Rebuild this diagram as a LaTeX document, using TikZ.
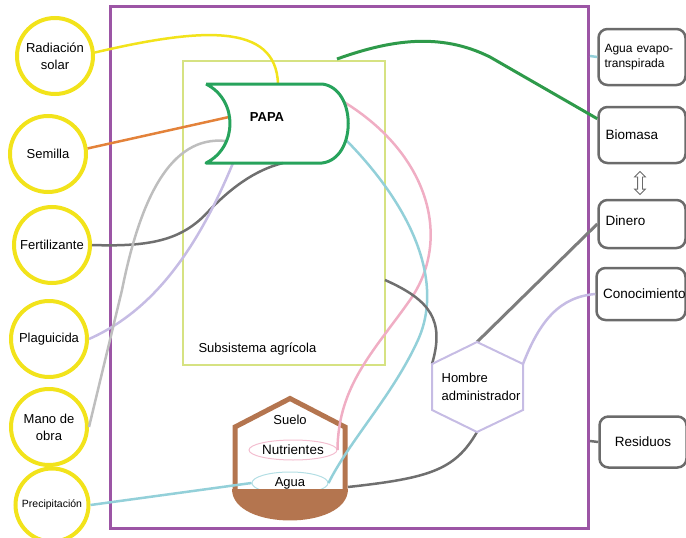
\documentclass[tikz,border=0pt]{standalone}
\usepackage{fontspec}
\setmainfont{Liberation Sans}
\usetikzlibrary{shapes.geometric,shapes.arrows}

\definecolor{Marco}{HTML}{9C55A5}
\definecolor{Sol}{HTML}{F2E31B}
\definecolor{Subsis}{HTML}{D6E282}
\definecolor{Papa}{HTML}{27A35C}
\definecolor{Bio}{HTML}{2E9A4A}
\definecolor{Naranja}{HTML}{E3823A}
\definecolor{GrisClaro}{HTML}{BEBEBE}
\definecolor{Lila}{HTML}{C6BCE4}
\definecolor{GrisOsc}{HTML}{6F6F6F}
\definecolor{Rosa}{HTML}{F0AEC4}
\definecolor{Celeste}{HTML}{93D0D9}
\definecolor{Tierra}{HTML}{B4754F}
\definecolor{Caja}{HTML}{6B6B6B}

\begin{document}
\begin{tikzpicture}[x=1pt, y=-1pt,
  entrada/.style={circle, draw=Sol, line width=4, minimum size=76, inner sep=0, align=center, font=\fontsize{13}{17}\selectfont},
  salida/.style={rectangle, rounded corners=9, draw=Caja, line width=2.5, inner xsep=7, text width=73, align=left, font=\fontsize{13.5}{16}\selectfont},
  texto/.style={font=\fontsize{13}{18}\selectfont},
  flujo/.style={line width=2.5}]

\useasboundingbox (0,0) rectangle (686,538) ;

%%%%%%%%%% Marco y subsistema %%%%%%%%%%

 \draw [Marco, line width=3] (110,6) rectangle (588,528) ;
 \draw [Subsis, line width=1.2] (183,61) rectangle (385,365) ;
 \node [texto, anchor=west] (subtxt) at (195,349) {Subsistema agrícola} ;

 \coordinate (sub-top) at (337,59) ;
 \coordinate (sub-right) at (385,280) ;
 \coordinate (eva-stub) at (590,56) ;
 \coordinate (res-stub) at (590,441) ;

%%%%%%%%%% Puntos de la PAPA %%%%%%%%%%

 \coordinate (p1) at (206,84) ;
 \coordinate (p2) at (322,84) ;
 \coordinate (p3) at (322,163) ;
 \coordinate (p4) at (206,163) ;
 \coordinate (papa-top) at (278,84) ;
 \coordinate (papa-left) at (229,117) ;
 \coordinate (papa-low) at (226,141) ;
 \coordinate (papa-bot1) at (233,163) ;
 \coordinate (papa-bot2) at (283,163) ;
 \coordinate (papa-ru) at (344,102) ;
 \coordinate (papa-rl) at (346,140) ;

%%%%%%%%%% Puntos del hombre %%%%%%%%%%

 \coordinate (hex-top) at (477,342) ;
 \coordinate (hex-ur) at (523,364) ;
 \coordinate (hex-lr) at (523,410) ;
 \coordinate (hex-bot) at (477,432) ;
 \coordinate (hex-ll) at (432,410) ;
 \coordinate (hex-ul) at (432,364) ;

%%%%%%%%%% Suelo %%%%%%%%%%

 \node [ellipse, draw=Celeste!70, line width=1, minimum width=76, minimum height=22, inner sep=0, texto] (agua) at (290,483) {Agua} ;
 \draw [Tierra, line width=5] (235,490) -- (235,427) -- (290,398.5) -- (345,427) -- (345,490) ;
 \fill [Tierra] (232,489) .. controls (232,531) and (348,531) .. (348,489) -- cycle ;
 \node [ellipse, draw=Rosa!80, line width=1, minimum width=88, minimum height=20, inner sep=0, texto, font=\fontsize{13.5}{18}\selectfont] (nut) at (293,450) {Nutrientes} ;
 \node [texto] (sue) at (290,420) {Suelo} ;
 \coordinate (suelo-r) at (348,487) ;

%%%%%%%%%% Entradas y salidas %%%%%%%%%%

 \node [entrada] (rad) at (55,56) {Radiación\\solar} ;
 \node [entrada] (sem) at (48,154) {Semilla} ;
 \node [entrada] (fer) at (52,245) {Fertilizante} ;
 \node [entrada] (pla) at (49,339) {Plaguicida} ;
 \node [entrada] (man) at (49,427) {Mano de\\obra} ;
 \node [entrada, minimum size=73, font=\fontsize{10.5}{12}\selectfont] (pre) at (52,505) {Precipitación} ;

 \node [salida, minimum height=56, inner xsep=6, text width=75, font=\fontsize{12}{15}\selectfont] (eva) at (642,57) {Agua evapo-\\transpirada} ;
 \node [salida, minimum height=56] (bio) at (642,135) {Biomasa} ;
 \node [salida, minimum height=48, text depth=7] (din) at (642,224) {Dinero} ;
 \node [salida, minimum height=52, inner xsep=6.5, text width=76] (con) at (641,294) {Conocimiento} ;
 \node [salida, minimum height=51, align=center] (res) at (643,442) {Residuos} ;
 \node [double arrow, draw=Caja, line width=0.8, fill=white, rotate=90, minimum height=23, inner sep=2, double arrow head extend=3] (cambio) at (640,183) {} ;

%%%%%%%%%% Flujos %%%%%%%%%%

 \draw [flujo, Sol] (rad.5) .. controls (200,28) and (276,22) .. (papa-top) ;
 \draw [flujo, Naranja] (sem.8) -- (papa-left) ;
 \draw [flujo, GrisOsc] (fer.east) .. controls (150,247) and (180,240) .. (205,215) .. controls (230,188) and (255,170) .. (papa-bot2) ;
 \draw [flujo, Lila] (pla.east) .. controls (150,312) and (195,255) .. (papa-bot1) ;
 \draw [flujo, GrisClaro] (man.east) -- (122,290) .. controls (140,200) and (170,135) .. (papa-low) ;
 \draw [flujo, Celeste] (pre.east) -- (agua.west) ;

 \draw [flujo, Rosa] (papa-ru) .. controls (430,155) and (452,240) .. (410,300) .. controls (375,350) and (338,385) .. (nut.east) ;
 \draw [flujo, Celeste] (papa-rl) .. controls (410,205) and (445,280) .. (418,340) .. controls (393,395) and (350,440) .. (agua.east) ;
 \draw [line width=3, Bio] (sub-top) .. controls (390,40) and (440,32) .. (490,57) -- (bio.160) ;

 \draw [flujo, GrisOsc] (sub-right) .. controls (430,300) and (445,320) .. (hex-ul) ;
 \draw [line width=3, GrisOsc!90] (hex-top) -- (din.west) ;
 \draw [flujo, Lila] (hex-ur) .. controls (540,320) and (560,297) .. (con.west) ;
 \draw [flujo, GrisOsc] (hex-bot) .. controls (455,470) and (430,478) .. (suelo-r) ;

 \draw [flujo, Celeste] (eva-stub) -- (eva.west) ;
 \draw [flujo, GrisOsc] (res-stub) -- (res.west) ;

%%%%%%%%%% PAPA y hombre %%%%%%%%%%

 \draw [Papa, line width=3, line join=round] (p1) -- (p2) .. controls (357,88) and (357,159) .. (p3) -- (p4) .. controls (238,147) and (238,100) .. (p1) ;
 \node [texto, font=\fontsize{13}{16}\selectfont\bfseries] (papa) at (267,117) {PAPA} ;

 \draw [Lila, line width=2] (hex-top) -- (hex-ur) -- (hex-lr) -- (hex-bot) -- (hex-ll) -- (hex-ul) -- cycle ;
 \node [texto, align=left] (hom) at (481,387) {Hombre\\administrador} ;

\end{tikzpicture}
\end{document}
